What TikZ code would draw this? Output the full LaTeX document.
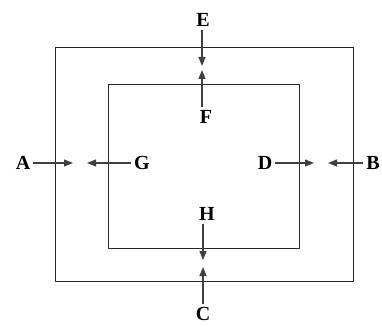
\documentclass[tikz,border=0pt]{standalone}
\usepackage{fontspec}
\setmainfont{Liberation Serif}
\usetikzlibrary{arrows.meta}
\begin{document}
\begin{tikzpicture}[x=1pt,y=-1pt,>={Triangle[length=9pt,width=7pt]},line join=round,
	lab/.style={font=\bfseries\fontsize{20}{20}\selectfont,inner sep=3pt},
	arr/.style={->,line width=1.2pt,black!75}]
	\useasboundingbox (0,0) rectangle (382,326);
	% rectangles
	\draw[line width=0.9pt,black!85] (55,47) rectangle (353,281) (108,84) rectangle (299,248);
	% labels
	\path (203,20)node[lab](E){E} (206,117)node[lab](F){F} (23,163)node[lab](A){A} (142,163)node[lab](G){G}
	(265,163)node[lab](D){D} (373,163)node[lab](B){B} (207,214)node[lab](H){H} (203,314)node[lab,inner sep=1pt](C){C};
	\path (202,66)coordinate(tE) (202,70)coordinate(tF) (73,163)coordinate(tA) (87,163)coordinate(tG)
	(314,163)coordinate(tD) (328,163)coordinate(tB) (203,260)coordinate(tH) (203,267)coordinate(tC);
	% arrows
	\draw[arr] (tE|-E.south) -- (tE);
	\draw[arr] (tF|-F.north) -- (tF);
	\draw[arr] (A) -- (tA);
	\draw[arr] (G) -- (tG);
	\draw[arr] (D) -- (tD);
	\draw[arr] (B) -- (tB);
	\draw[arr] (tH|-H.south) -- (tH);
	\draw[arr] (tC|-C.north) ++(0,-2) -- (tC);
\end{tikzpicture}
\end{document}
